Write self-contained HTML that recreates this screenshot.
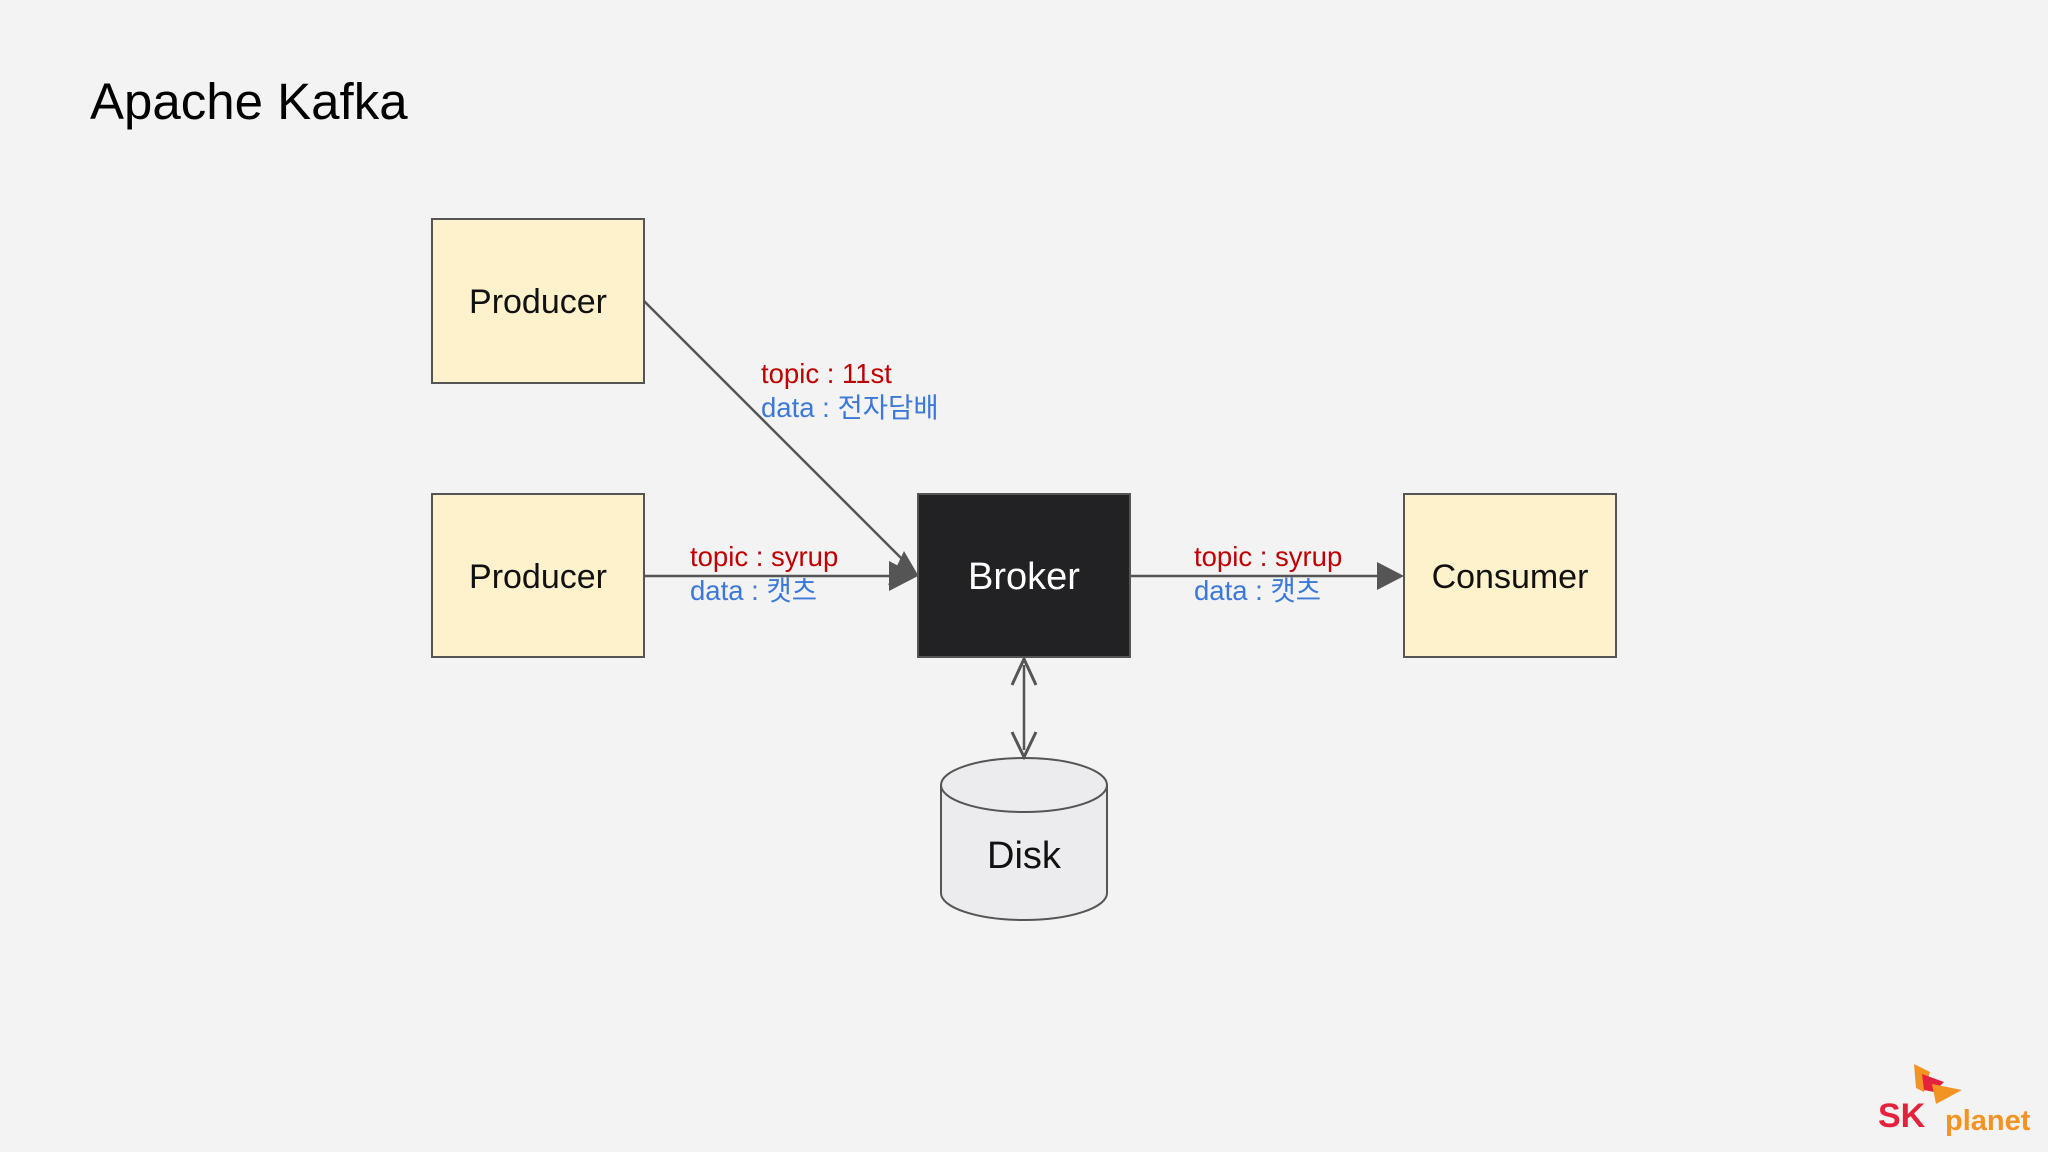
<!DOCTYPE html>
<html><head><meta charset="utf-8"><style>
html,body{margin:0;padding:0;background:#f3f3f4;}
svg{display:block;}
text{font-family:"Liberation Sans","Noto Sans CJK KR",sans-serif;}
</style></head><body>
<svg width="2048" height="1152" viewBox="0 0 2048 1152" xmlns="http://www.w3.org/2000/svg">
<rect width="2048" height="1152" fill="#f3f3f4"/>
<text x="90" y="119" font-size="51" fill="#000">Apache Kafka</text>

<rect x="432" y="219" width="212" height="164" fill="#fdf2cc" stroke="#555" stroke-width="2"/>
<text x="538" y="313" font-size="34" text-anchor="middle" fill="#111">Producer</text>
<rect x="432" y="494" width="212" height="163" fill="#fdf2cc" stroke="#555" stroke-width="2"/>
<text x="538" y="588" font-size="34" text-anchor="middle" fill="#111">Producer</text>
<rect x="918" y="494" width="212" height="163" fill="#222224" stroke="#555" stroke-width="2"/>
<text x="1024" y="589" font-size="38" text-anchor="middle" fill="#fff">Broker</text>
<rect x="1404" y="494" width="212" height="163" fill="#fdf2cc" stroke="#555" stroke-width="2"/>
<text x="1510" y="588" font-size="34" text-anchor="middle" fill="#111">Consumer</text>

<!-- disk -->
<path d="M941 785 L941 893 A83 27 0 0 0 1107 893 L1107 785" fill="#ececef" stroke="#555" stroke-width="2"/>
<ellipse cx="1024" cy="785" rx="83" ry="27" fill="#ececef" stroke="#555" stroke-width="2"/>
<text x="1024" y="868" font-size="38" text-anchor="middle" fill="#111">Disk</text>

<!-- connectors -->
<g stroke="#555" stroke-width="2.5" fill="#555">
<line x1="644" y1="301" x2="903" y2="560"/>
<line x1="644" y1="576" x2="895" y2="576"/>
<line x1="1130" y1="576" x2="1380" y2="576"/>
<line x1="1024" y1="665" x2="1024" y2="750"/>
</g>
<polygon points="918,575 888,585 904,551" fill="#555"/>
<polygon points="918,576 889,561 889,591" fill="#555"/>
<polygon points="1404,576 1377,562 1377,590" fill="#555"/>
<polyline points="1012,685 1024,659 1036,685" fill="none" stroke="#555" stroke-width="3"/>
<polyline points="1012,732 1024,757 1036,732" fill="none" stroke="#555" stroke-width="3"/>

<g font-size="27.5">
<text x="761" y="383" fill="#c00000">topic : 11st</text>
<text x="761" y="417" fill="#3c78d8">data : 전자담배</text>
<text x="690" y="566" fill="#c00000">topic : syrup</text>
<text x="690" y="600" fill="#3c78d8">data : 캣츠</text>
<text x="1194" y="566" fill="#c00000">topic : syrup</text>
<text x="1194" y="600" fill="#3c78d8">data : 캣츠</text>
</g>

<!-- logo -->
<polygon points="1914,1064 1930,1072 1924,1092 1916,1088" fill="#f39324"/>
<polygon points="1922,1074 1944,1082 1934,1092 1924,1090" fill="#e5223e"/>
<polygon points="1932,1084 1962,1090 1936,1104" fill="#f39324"/>
<text x="1878" y="1127" font-size="34" font-weight="bold" fill="#e5223e">SK</text>
<text x="1945" y="1130" font-size="29" font-weight="bold" fill="#f39324">planet</text>
</svg>
</body></html>
